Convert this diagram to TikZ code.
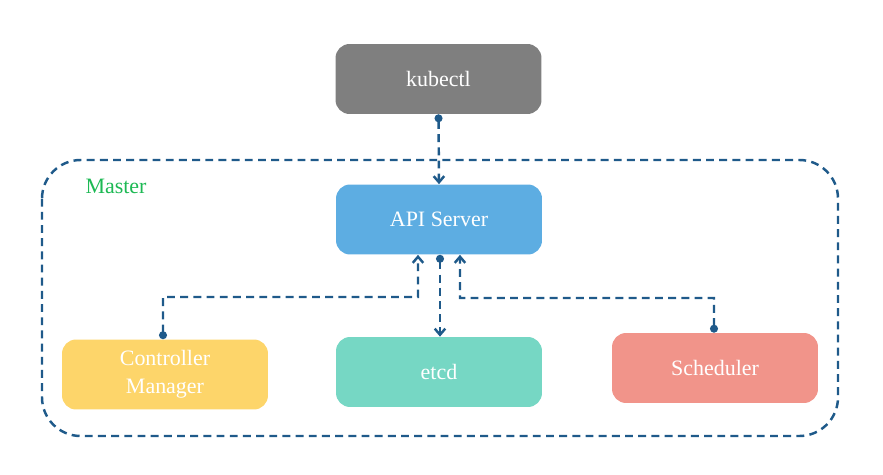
\documentclass[tikz,border=0pt]{standalone}
\usepackage{fontspec}
\setmainfont{Liberation Serif}
\usetikzlibrary{arrows.meta}
\definecolor{kubegray}{HTML}{7F7F7F}
\definecolor{apiblue}{HTML}{5DADE2}
\definecolor{cmyellow}{HTML}{FDD56A}
\definecolor{etcdteal}{HTML}{76D7C4}
\definecolor{schedpink}{HTML}{F1948A}
\definecolor{linkblue}{HTML}{1F5A8A}
\definecolor{mastergreen}{HTML}{1DB954}
\begin{document}
\begin{tikzpicture}[x=0.02cm, y=-0.02cm,
    comp/.style={rounded corners=8pt, minimum width=4.12cm, minimum height=1.4cm,
      text=white, font=\fontsize{12.5}{14}\selectfont, align=center, inner sep=0},
    link/.style={linkblue, line width=1.4pt, dash pattern=on 4.5pt off 3pt},
    dotstart/.style={{Circle[length=4.5pt]}-{Straight Barb[length=3.5pt, width=6pt]}}]

    \useasboundingbox (0,0) rectangle (883,474);

    %% Master boundary
    \draw[link, rounded corners=22pt] (42,160) rectangle (838,436);
    \node[text=mastergreen, font=\fontsize{12.5}{14}\selectfont] (master) at (116,186) {Master};

    % Components
    \node[comp, fill=kubegray] (kubectl) at (438.5,79) {kubectl};
    \node[comp, fill=apiblue] (api) at (439,219.5) {API Server};
    \node[comp, fill=cmyellow] (cm) at (165,374.5) {Controller\\[2pt]Manager};
    \node[comp, fill=etcdteal] (etcd) at (439,372) {etcd};
    \node[comp, fill=schedpink] (sched) at (715,368) {Scheduler};

    % Connectors
    \draw[link, dotstart] (kubectl.south) -- (api.north);
    \draw[link, dotstart] ([xshift=0.02cm]api.south) -- ([xshift=0.02cm]etcd.north);
    \draw[link, dotstart] ([xshift=-0.04cm]cm.north) |- (418,297) -- ([xshift=-0.42cm]api.south);
    \draw[link, dotstart] ([xshift=-0.02cm]sched.north) |- (460,298) -- ([xshift=0.42cm]api.south);

\end{tikzpicture}
\end{document}
